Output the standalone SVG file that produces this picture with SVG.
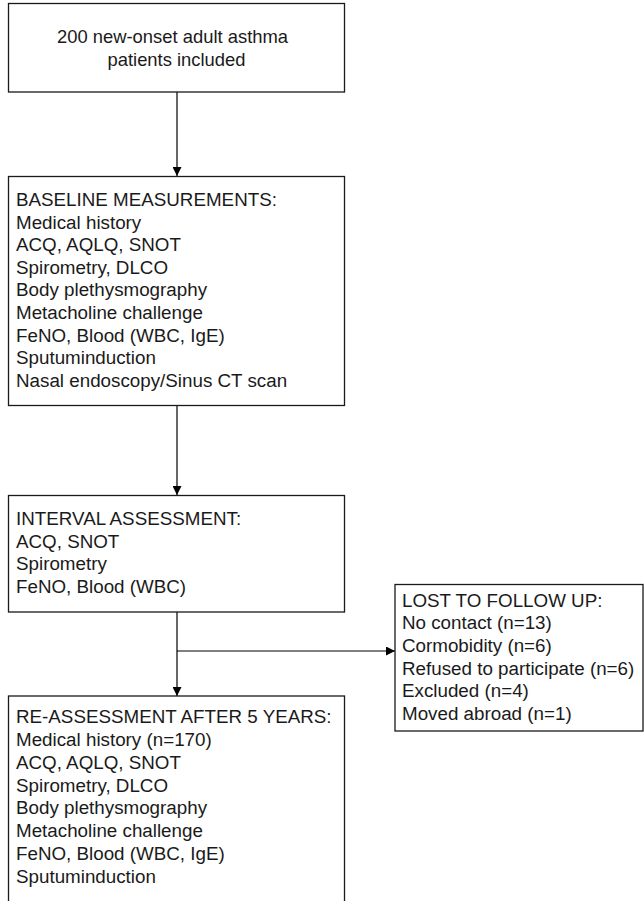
<svg xmlns="http://www.w3.org/2000/svg" width="644" height="901" viewBox="0 0 644 901">
<style>
.box{fill:#fff;stroke:#1a1a1a;stroke-width:1.3}
.t{font-family:"Liberation Sans",Arial,sans-serif;font-size:18.8px;fill:#1a1a1a}
.t1{font-size:18.4px}
.c{fill:none;stroke:#000;stroke-width:1.2}
</style>
<defs>
<marker id="ah" viewBox="0 0 10 10" refX="10" refY="5" markerWidth="9" markerHeight="9" markerUnits="userSpaceOnUse" orient="auto">
<path d="M0,0 L10,5 L0,10 z" fill="#000"/>
</marker>
</defs>
<rect x="0" y="0" width="644" height="901" fill="#fff"/>
<g id="connectors">
<line class="c" x1="177" y1="92" x2="177" y2="176" marker-end="url(#ah)"/>
<line class="c" x1="177" y1="406" x2="177" y2="495" marker-end="url(#ah)"/>
<line class="c" x1="177" y1="612" x2="177" y2="696" marker-end="url(#ah)"/>
<line class="c" x1="177" y1="651" x2="395" y2="651" marker-end="url(#ah)"/>
</g>
<g id="n_included">
<rect class="box" x="8.5" y="3.5" width="336" height="88.5"/>
<text class="t t1" text-anchor="middle"><tspan x="172.5" y="43.3">200 new-onset adult asthma</tspan><tspan x="176.5" y="65.5">patients included</tspan></text>
</g>
<g id="n_baseline">
<rect class="box" x="8.5" y="176.5" width="336" height="229"/>
<text class="t"><tspan x="16" y="206">BASELINE MEASUREMENTS:</tspan><tspan x="16" y="228.6">Medical history</tspan><tspan x="16" y="251.2">ACQ, AQLQ, SNOT</tspan><tspan x="16" y="273.8">Spirometry, DLCO</tspan><tspan x="16" y="296.4">Body plethysmography</tspan><tspan x="16" y="319">Metacholine challenge</tspan><tspan x="16" y="341.6">FeNO, Blood (WBC, IgE)</tspan><tspan x="16" y="364.2">Sputuminduction</tspan><tspan x="16" y="386.8">Nasal endoscopy/Sinus CT scan</tspan></text>
</g>
<g id="n_interval">
<rect class="box" x="8.5" y="495.5" width="336" height="116.5"/>
<text class="t"><tspan x="16" y="525">INTERVAL ASSESSMENT:</tspan><tspan x="16" y="547.6">ACQ, SNOT</tspan><tspan x="16" y="570.2">Spirometry</tspan><tspan x="16" y="592.8">FeNO, Blood (WBC)</tspan></text>
</g>
<g id="n_lost">
<rect class="box" x="395" y="584.5" width="248" height="146.5"/>
<text class="t"><tspan x="402" y="606.7">LOST TO FOLLOW UP:</tspan><tspan x="402" y="629.3">No contact (n=13)</tspan><tspan x="402" y="652">Cormobidity (n=6)</tspan><tspan x="402" y="674.6">Refused to participate (n=6)</tspan><tspan x="402" y="697.3">Excluded (n=4)</tspan><tspan x="402" y="720">Moved abroad (n=1)</tspan></text>
</g>
<g id="n_reassessment">
<rect class="box" x="8.5" y="696" width="336" height="210"/>
<text class="t"><tspan x="16" y="723.3">RE-ASSESSMENT AFTER 5 YEARS:</tspan><tspan x="16" y="746">Medical history (n=170)</tspan><tspan x="16" y="768.8">ACQ, AQLQ, SNOT</tspan><tspan x="16" y="791.5">Spirometry, DLCO</tspan><tspan x="16" y="814.3">Body plethysmography</tspan><tspan x="16" y="837">Metacholine challenge</tspan><tspan x="16" y="859.8">FeNO, Blood (WBC, IgE)</tspan><tspan x="16" y="882.5">Sputuminduction</tspan></text>
</g>
</svg>
